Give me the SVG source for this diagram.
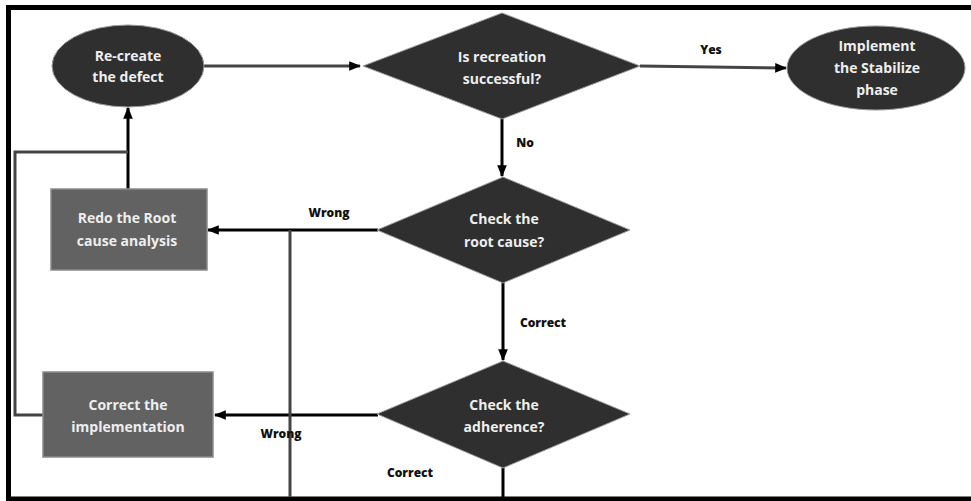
<svg xmlns="http://www.w3.org/2000/svg" width="971" height="501" viewBox="0 0 971 501">
<defs>
<marker id="ah" viewBox="0 0 10 10" refX="9" refY="5" markerWidth="4" markerHeight="4" orient="auto" markerUnits="strokeWidth"><path d="M0,1 L10,5 L0,9 z" fill="#000"/></marker>
<style>
.node-dark{fill:#2f2f2f;stroke:#9a9a9a;stroke-width:1}
.box{fill:#626262;stroke:#8a8a8a;stroke-width:1.5}
.nt{font-family:"Open Sans","Liberation Sans",sans-serif;font-weight:700;font-size:14px;fill:#eeeeee;text-anchor:middle}
.lbl{font-family:"Open Sans","Liberation Sans",sans-serif;font-weight:800;font-size:12px;fill:#111;text-anchor:middle}
.c-gray{stroke:#444;stroke-width:3;fill:none}
.c-black{stroke:#000;stroke-width:3;fill:none}
</style>
</defs>
<rect width="971" height="501" fill="#fff"/>
<path d="M985,7.5 H8.5 V499 H985" fill="none" stroke="#000" stroke-width="5"/>

<g id="connectors">
<line class="c-gray" x1="204" y1="66" x2="360" y2="66" marker-end="url(#ah)"/>
<line class="c-gray" x1="640" y1="66" x2="786" y2="68" marker-end="url(#ah)"/>
<line class="c-black" x1="502" y1="118" x2="502" y2="176" marker-end="url(#ah)"/>
<line class="c-black" x1="378" y1="230" x2="208" y2="230" marker-end="url(#ah)"/>
<line class="c-black" x1="503" y1="282" x2="503" y2="360" marker-end="url(#ah)"/>
<line class="c-black" x1="378" y1="415" x2="215" y2="415" marker-end="url(#ah)"/>
<line class="c-black" x1="503" y1="468" x2="503" y2="497"/>
<line class="c-gray" x1="290" y1="230" x2="290" y2="497"/>
<line class="c-black" x1="128" y1="189" x2="128" y2="108" marker-end="url(#ah)"/>
<polyline class="c-gray" points="128,152 15,152 15,415 43,415"/>
<text class="lbl" x="711" y="54">Yes</text>
<text class="lbl" x="525" y="147">No</text>
<text class="lbl" x="329" y="217">Wrong</text>
<text class="lbl" x="543" y="327">Correct</text>
<text class="lbl" x="281" y="438">Wrong</text>
<text class="lbl" x="410" y="477">Correct</text>
</g>

<g id="recreate">
<ellipse class="node-dark" cx="128" cy="66" rx="76" ry="41"/>
<text class="nt" x="128" y="61">Re-create</text>
<text class="nt" x="128" y="82">the defect</text>
</g>

<g id="is-recreation">
<polygon class="node-dark" points="502,13 640,66 502,119 363,66"/>
<text class="nt" x="502" y="62">Is recreation</text>
<text class="nt" x="502" y="84">successful?</text>
</g>

<g id="stabilize">
<ellipse class="node-dark" cx="876" cy="68" rx="89" ry="42"/>
<text class="nt" x="877" y="51">Implement</text>
<text class="nt" x="877" y="73">the Stabilize</text>
<text class="nt" x="877" y="95">phase</text>
</g>

<g id="check-root">
<polygon class="node-dark" points="503,177 630,230 503,283 377,230"/>
<text class="nt" x="504" y="224">Check the</text>
<text class="nt" x="504" y="247">root cause?</text>
</g>

<g id="redo-rca">
<rect class="box" x="51" y="189" width="156" height="81"/>
<text class="nt" x="127" y="223">Redo the Root</text>
<text class="nt" x="127" y="246">cause analysis</text>
</g>

<g id="check-adherence">
<polygon class="node-dark" points="503,361 630,414 503,468 377,414"/>
<text class="nt" x="504" y="410">Check the</text>
<text class="nt" x="504" y="432">adherence?</text>
</g>

<g id="correct-impl">
<rect class="box" x="43" y="372" width="170" height="85"/>
<text class="nt" x="128" y="410">Correct the</text>
<text class="nt" x="128" y="432">implementation</text>
</g>
</svg>
